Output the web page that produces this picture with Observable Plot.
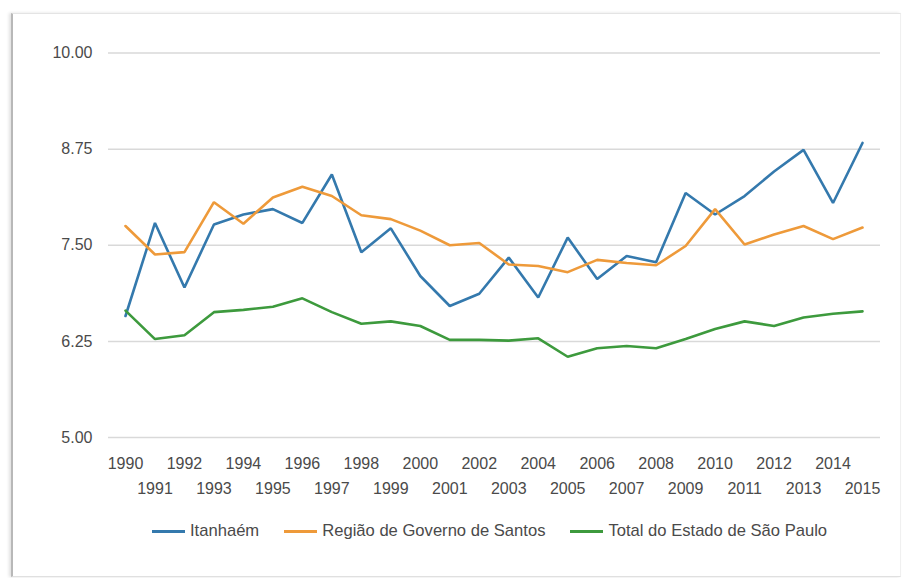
<!DOCTYPE html>
<html>
<head>
<meta charset="utf-8">
<script src="https://cdn.jsdelivr.net/npm/d3@7"></script>
<script src="https://cdn.jsdelivr.net/npm/@observablehq/plot@0.6"></script>
<style>
  html, body { margin: 0; padding: 0; background: #fff; }
  #wrap { position: relative; width: 907px; height: 578px; overflow: hidden; font-family: "Liberation Sans", Arial, sans-serif; }
  #frame { position: absolute; left: 11px; top: 13px; width: 887px; height: 562px; border-top: 1px solid #e4e4e4; border-left: 2px solid #b8b8b8; border-bottom: 1px solid #e0e0e0; border-right: 1px solid #f0f0f0; box-shadow: -2px 0 3px rgba(0,0,0,0.12); }
  #chart { position: absolute; left: 0; top: 0; }
  #legend { position: absolute; left: 152px; top: 521px; display: flex; align-items: center; font-size: 16.6px; color: #4a4a4a; white-space: nowrap; }
  .item { display: flex; align-items: center; margin-right: 25px; }
  .sw { width: 33px; height: 3px; margin-right: 5px; }
</style>
</head>
<body>
<div id="wrap">
  <div id="frame"></div>
  <div id="chart"></div>
  <div id="legend"></div>
</div>
<script>
const years = d3.range(1990, 2016);
const seriesNames = ["Itanhaém", "Região de Governo de Santos", "Total do Estado de São Paulo"];
const seriesColors = ["#3479ad", "#ee9a3a", "#3d9a3d"];
const itanhaem = [6.58, 7.79, 6.95, 7.77, 7.90, 7.97, 7.79, 8.42, 7.41, 7.72, 7.10, 6.71, 6.87, 7.34, 6.82, 7.60, 7.06, 7.36, 7.28, 8.18, 7.90, 8.14, 8.46, 8.74, 8.05, 8.83];
const santos = [7.75, 7.38, 7.41, 8.06, 7.78, 8.12, 8.26, 8.14, 7.89, 7.84, 7.69, 7.50, 7.53, 7.25, 7.23, 7.15, 7.31, 7.27, 7.24, 7.49, 7.97, 7.51, 7.64, 7.75, 7.58, 7.73];
const saoPaulo = [6.65, 6.28, 6.33, 6.63, 6.66, 6.70, 6.81, 6.63, 6.48, 6.51, 6.45, 6.27, 6.27, 6.26, 6.29, 6.05, 6.16, 6.19, 6.16, 6.28, 6.41, 6.51, 6.45, 6.56, 6.61, 6.64];
const yTicks = [5.00, 6.25, 7.50, 8.75, 10.00];

const valuesBySeries = [itanhaem, santos, saoPaulo];
const data = [];
valuesBySeries.forEach((vals, i) => vals.forEach((v, j) => data.push({series: seriesNames[i], year: years[j], value: v})));

const evenYears = years.filter(y => y % 2 === 0);
const oddYears = years.filter(y => y % 2 === 1);

const plot = Plot.plot({
  width: 907,
  height: 578,
  marginLeft: 108,
  marginRight: 27,
  marginTop: 52.5,
  marginBottom: 141,
  style: {fontFamily: "'Liberation Sans', Arial, sans-serif", fontSize: "16px", color: "#4a4a4a", background: "transparent"},
  x: {domain: [1990, 2015], insetLeft: 17, insetRight: 18},
  y: {domain: [5, 10]},
  color: {domain: seriesNames, range: seriesColors},
  marks: [
    Plot.ruleY(yTicks, {stroke: "#d9d9d9", strokeWidth: 1.5}),
    Plot.axisY({ticks: yTicks, tickSize: 0, tickPadding: 16, tickFormat: d3.format(".2f"), label: null, fill: "#4a4a4a"}),
    Plot.axisX({ticks: evenYears, tickSize: 0, tickPadding: 20, tickFormat: d => String(d), label: null, fill: "#4a4a4a"}),
    Plot.axisX({ticks: oddYears, tickSize: 0, tickPadding: 45, tickFormat: d => String(d), label: null, fill: "#4a4a4a"}),
    Plot.line(data, {x: "year", y: "value", z: "series", stroke: "series", strokeWidth: 2.6, strokeLinejoin: "miter", curve: "linear"})
  ]
});
document.getElementById("chart").appendChild(plot);

const legend = document.getElementById("legend");
seriesNames.forEach((name, i) => {
  const item = document.createElement("div");
  item.className = "item";
  const sw = document.createElement("span");
  sw.className = "sw";
  sw.style.background = seriesColors[i];
  const label = document.createElement("span");
  label.textContent = name;
  item.appendChild(sw);
  item.appendChild(label);
  legend.appendChild(item);
});
</script>
</body>
</html>
